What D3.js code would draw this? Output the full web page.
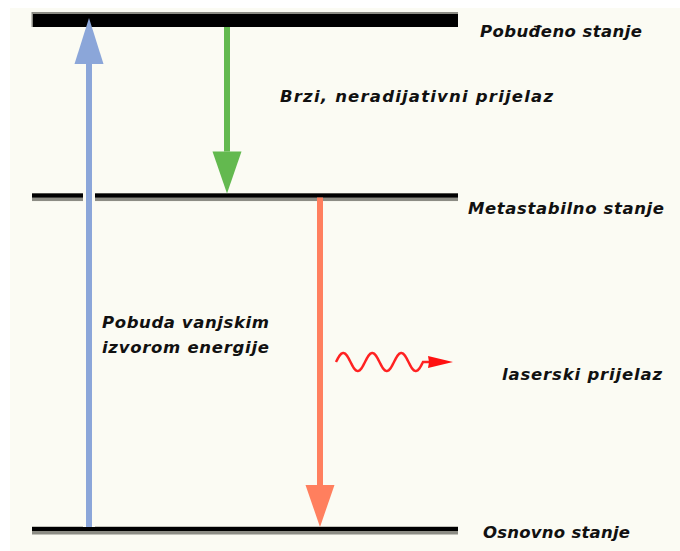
<!DOCTYPE html>
<html><head><meta charset="utf-8">
<script src="https://cdn.jsdelivr.net/npm/d3@7"></script>
<style>html,body{margin:0;padding:0;background:#fff;} svg{display:block;}</style>
</head><body><svg id="c" width="680" height="551"></svg>
<script>
// ---- data ----
const levelNames = ["Osnovno stanje", "Metastabilno stanje", "Pobuđeno stanje"];
const levelEnergies = [0, 1.95, 3];
const transitionNames = ["Pobuda vanjskim izvorom energije", "Brzi, neradijativni prijelaz", "laserski prijelaz"];
const transitionFrom = [0, 2, 1];
const transitionTo = [2, 1, 0];
const photonLabel = "laserski prijelaz";

// ---- layout / style ----
const W = 680, H = 551;
const svg = d3.select("#c");
const font = "'DejaVu Sans', Verdana, sans-serif";
const fs = 16.5;
const levelX0 = 32, levelX1 = 458;
const y = d3.scaleLinear().domain([0, 3]).range([527, 14]);
const arrowX = [89, 227, 320];
const arrowColors = ["#8ba6d9", "#63b94f", "#ff7f5e"];
const labelPos = [
  {x: 483, dy: 11, w: 147},   // Osnovno
  {x: 468, dy: 20, w: 196},   // Metastabilno
  {x: 480, dy: 23, w: 162}    // Pobuđeno
];

svg.append("rect").attr("x", 10).attr("y", 8).attr("width", W - 10).attr("height", H - 8).attr("fill", "#fbfbf3");

function styledText(sel) {
  return sel.attr("font-family", font).attr("font-weight", "bold").attr("font-style", "italic")
    .attr("font-size", fs).attr("fill", "#111").attr("lengthAdjust", "spacing");
}

// levels
levelEnergies.forEach((e, i) => {
  const yy = y(e);
  if (i === 2) {
    svg.append("rect").attr("x", levelX0 - 0.5).attr("y", yy - 2).attr("width", levelX1 - levelX0 + 0.5).attr("height", 15).attr("fill", "#8c8c84");
    svg.append("rect").attr("x", levelX0 + 1).attr("y", yy).attr("width", levelX1 - levelX0 - 1).attr("height", 13).attr("fill", "#000");
  } else {
    svg.append("rect").attr("x", levelX0).attr("y", yy - 0.5).attr("width", levelX1 - levelX0).attr("height", 8).attr("fill", "#8c8c84");
    svg.append("rect").attr("x", levelX0).attr("y", yy).attr("width", levelX1 - levelX0).attr("height", 4).attr("fill", "#000");
  }
  styledText(svg.append("text")).attr("x", labelPos[i].x).attr("y", yy + labelPos[i].dy)
    .attr("textLength", labelPos[i].w).text(levelNames[i]);
});

// arrows
function arrow(i) {
  const x = arrowX[i];
  const f = transitionFrom[i], t = transitionTo[i];
  const up = levelEnergies[t] > levelEnergies[f];
  const c = arrowColors[i];
  let yStart, yTip;
  if (up) { yStart = y(levelEnergies[f]); yTip = y(levelEnergies[t]) + 4; }
  else {
    yStart = y(levelEnergies[f]) + (f === 2 ? 13 : 4);
    yTip = y(levelEnergies[t]) + (t === 2 ? 13 : 0);
  }
  const headLen = up ? 46 : 42, hw = 14.5;
  const dir = up ? -1 : 1;
  const yBase = yTip - dir * headLen;
  if (up) {
    svg.append("line").attr("x1", x).attr("x2", x).attr("y1", yStart).attr("y2", yBase + 4)
      .attr("stroke", "#fbfbf3").attr("stroke-width", 12);
  }
  svg.append("line").attr("x1", x).attr("x2", x).attr("y1", yStart).attr("y2", yBase)
    .attr("stroke", c).attr("stroke-width", 6);
  svg.append("path").attr("d", `M${x},${yTip}L${x - hw},${yBase}L${x + hw},${yBase}Z`).attr("fill", c);
}
arrow(1); arrow(2); arrow(0);

// photon (wavy arrow glyph)
const wy = 362, amp = 9, per = 29, wx0 = 336, wx1 = 423;
const pts = d3.range(wx0, wx1 + 0.01, 0.5).map(x => [x, wy - amp * Math.sin(2 * Math.PI * (x - wx0) / per)]);
pts.push([430, wy]);
svg.append("path").attr("d", d3.line()(pts)).attr("fill", "none").attr("stroke", "#ff2222").attr("stroke-width", 2.5);
svg.append("path").attr("d", `M453,${wy}L428,${wy - 6}L429,${wy}L428,${wy + 6}Z`).attr("fill", "#ff1111");

// transition labels
function label(x, yy, lines, widths) {
  lines.forEach((l, k) => styledText(svg.append("text")).attr("x", x).attr("y", yy + k * 25)
    .attr("textLength", widths[k]).text(l));
}
label(102, 328, ["Pobuda vanjskim", "izvorom energije"], [167, 167]);
label(280, 102, [transitionNames[1]], [273]);
label(502, 380, [photonLabel], [160]);
</script></body></html>
